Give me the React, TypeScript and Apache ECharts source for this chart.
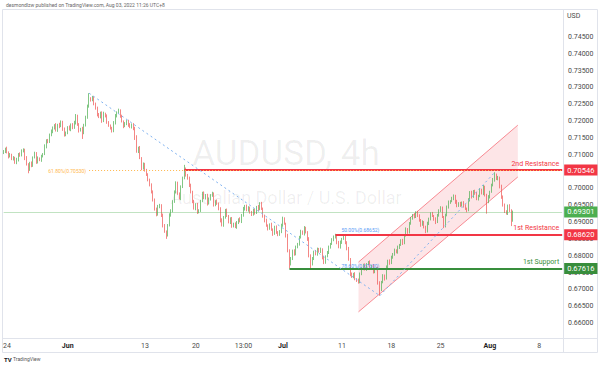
import React, { useEffect, useRef } from 'react';
import * as echarts from 'echarts';

// ---- data (prices in 1e-4 units) ----
const SLOT_COUNT = 341; // bar slots on the time axis (incl. empty future space)
const FIRST_OPEN = 7105;
const closes = [
  7110,7118,7108,7095,7100,7088,7092,7076,7085,7102,
  7098,7112,7116,7090,7072,7055,7075,7068,7092,7105,
  7078,7090,7084,7096,7102,7125,7142,7138,7160,7168,
  7180,7188,7172,7190,7185,7198,7176,7158,7165,7182,
  7175,7190,7180,7195,7216,7190,7172,7178,7165,7188,
  7210,7245,7268,7262,7270,7252,7238,7220,7212,7225,
  7200,7222,7215,7198,7186,7180,7170,7195,7215,7225,
  7232,7215,7200,7185,7192,7200,7188,7182,7190,7178,
  7150,7110,7120,7090,7060,7072,7055,7040,7025,7012,
  6990,6965,6940,6922,6945,6950,6920,6890,6872,6862,
  6890,6920,6935,6960,6990,7015,6985,6970,7005,7030,
  7058,7040,7030,7010,6990,6960,6940,6952,6930,6935,
  6962,6985,6972,6980,6955,6968,6980,6984,6950,6962,
  6955,6940,6905,6890,6915,6935,6918,6900,6910,6888,
  6895,6885,6898,6908,6902,6920,6940,6948,6935,6942,
  6930,6922,6935,6928,6945,6938,6955,6940,6918,6905,
  6890,6880,6892,6878,6865,6885,6870,6862,6872,6890,
  6910,6895,6860,6815,6775,6790,6815,6805,6825,6835,
  6855,6872,6865,6882,6870,6850,6800,6775,6790,6812,
  6805,6820,6812,6818,6795,6780,6798,6810,6825,6835,
  6848,6855,6858,6840,6825,6840,6850,6855,6838,6822,
  6790,6745,6738,6745,6730,6728,6722,6745,6762,6772,
  6760,6775,6780,6765,6770,6752,6760,6762,6720,6700,
  6722,6740,6732,6765,6785,6778,6795,6805,6815,6810,
  6825,6832,6845,6838,6860,6878,6870,6895,6912,6920,
  6915,6928,6920,6905,6892,6900,6885,6872,6895,6910,
  6925,6918,6908,6900,6920,6935,6942,6915,6888,6920,
  6945,6958,6962,6970,6978,6960,6948,6955,6950,6958,
  6948,6940,6935,6965,6988,6975,6992,6985,6970,6978,
  6995,6985,7005,6980,6960,6975,6990,7010,7025,7040,
  7028,7032,7005,6975,6950,6932,6925,6948,6935,6905,6930
];
const upperWicks = [
  4,3,6,2,5,3,4,2,6,3, 5,4,3,2,6,3,4,5,3,4, 3,5,2,4,3,6,4,5,3,7, 4,3,6,2,5,4,3,5,4,3,
  5,3,4,6,5,3,4,2,5,4, 6,4,15,3,5,4,3,5,4,3, 4,6,3,5,2,4,3,5,6,4, 5,3,4,2,5,3,4,6,3,4,
  5,8,4,6,3,5,4,3,5,4, 3,4,5,3,6,4,3,5,4,3, 4,6,3,5,4,6,5,3,4,5, 12,4,3,5,4,3,6,4,5,3,
  4,5,6,3,4,5,3,6,4,3, 5,3,4,6,3,4,5,3,4,5, 3,4,5,3,6,4,5,3,4,5, 4,3,5,4,3,6,4,5,3,4,
  5,3,4,6,3,4,5,3,4,5, 6,4,3,5,4,6,3,4,5,3, 4,5,3,6,4,3,5,4,6,3, 5,4,3,6,4,5,3,4,5,3,
  4,5,7,3,4,5,3,6,4,5, 4,3,5,4,6,3,4,5,3,4, 5,3,4,6,3,5,4,3,5,4, 3,5,4,6,3,4,5,3,6,4,
  5,3,4,5,3,6,4,5,3,4, 6,4,5,3,4,5,3,4,6,3, 4,5,3,6,4,3,5,4,3,5, 4,6,3,5,4,3,6,4,5,3,
  4,5,3,6,4,5,3,4,5,3, 6,4,5,3,4,5,3,4,6,8, 4,5,3,6,4,5,3,4,5,3,4
];
const lowerWicks = [
  3,5,4,6,3,4,5,3,4,5, 4,3,5,6,4,10,3,5,4,3, 5,4,3,5,4,3,6,4,3,5, 4,5,3,4,6,3,5,4,3,4,
  3,5,4,3,5,4,6,3,18,4, 4,3,5,4,3,5,4,6,3,4, 5,3,4,6,3,5,4,3,5,4, 3,5,4,6,3,4,5,3,4,5,
  6,4,5,3,6,4,5,3,4,6, 5,4,6,5,3,4,5,6,4,12, 5,3,4,6,3,5,4,3,5,4, 3,5,4,6,5,4,3,5,6,4,
  5,3,4,5,6,3,4,5,4,3, 4,5,6,3,4,5,3,4,6,5, 4,3,5,4,3,5,4,6,3,4, 5,4,3,6,4,5,3,4,5,6,
  4,5,3,4,6,3,5,4,3,5, 4,3,6,5,13,4,3,5,4,3, 5,4,3,5,4,6,5,13,4,3, 4,5,3,4,6,5,4,3,5,4,
  3,5,4,6,3,4,5,3,4,6, 5,6,4,5,3,6,5,4,3,5, 4,5,3,4,6,5,4,3,6,19, 5,4,6,3,4,5,3,4,5,3,
  4,5,3,6,4,3,5,4,3,5, 4,3,5,4,6,3,4,5,3,4, 5,3,4,6,3,4,5,3,6,4, 3,5,4,3,5,6,4,3,5,4,
  5,4,6,3,4,5,3,4,5,6, 4,3,5,4,35,4,5,3,4,5, 3,4,5,6,4,5,3,4,5,17,4
];

const tickIndex = [2, 39, 86, 117, 146, 170, 206, 236, 266, 296, 326];
const tickText = ['24', 'Jun', '13', '20', '13:00', 'Jul', '11', '18', '25', 'Aug', '8'];
const monthTicks = ['Jun', 'Jul', 'Aug'];
const hiddenPriceTicks = ['0.70500']; // fully covered by a price tag in the reference

// horizontal levels
const secondResistance = { price: 0.70546, start: 110, label: '2nd Resistance' };
const firstResistance = { price: 0.6862, start: 202, label: '1st Resistance' };
const firstSupport = { price: 0.67616, start: 174, label: '1st Support' };
const lastPrice = { price: 0.69301, start: 0 };
const fib618 = { price: 0.7053, start: 52, label: '61.80%(0.70530)' };
const fib500 = { price: 0.68652, start: 205, label: '50.00%(0.68652)' };
const fib786 = { price: 0.676, start: 205, label: '78.60%(0.67600)' };
const fibDiag1 = [[52, 0.7283], [229, 0.6681]];
const fibDiag2 = [[229, 0.6681], [299, 0.7048]];
const channelUpper = [[216, 0.6781], [313, 0.7188]];
const channelLower = [[216, 0.6633], [313, 0.7034]];

const FONT = 'Roboto, "Liberation Sans", sans-serif';
const UP = '#4caf50';
const DOWN = '#ef5350';
const RED = '#f23645';
const GREEN = '#388e3c';

export default function App() {
  const ref = useRef<HTMLDivElement>(null);
  useEffect(() => {
    if (!ref.current) return;
    const chart = echarts.init(ref.current, undefined, { renderer: 'svg' });
    const cats = Array.from({ length: SLOT_COUNT }, (_, i) => 'b' + i);
    const tickMap = new Map<number, string>();
    tickIndex.forEach((ix, k) => tickMap.set(ix, tickText[k]));

    const candles = closes.map((c, i) => {
      const o = i === 0 ? FIRST_OPEN : closes[i - 1];
      const hi = Math.max(o, c) + upperWicks[i];
      const lo = Math.min(o, c) - lowerWicks[i];
      return [o / 1e4, c / 1e4, lo / 1e4, hi / 1e4];
    });
    const last = SLOT_COUNT - 1;

    const tag = (text: string, bg: string) => ({
      show: true, position: 'end', formatter: text, color: '#fff', backgroundColor: bg,
      padding: [2, 3, 1, 3], fontSize: 7.5, fontFamily: FONT, distance: 2,
    });
    const nameLbl = (text: string, color: string) => ({
      show: true, position: 'insideEndTop', formatter: text, color, fontSize: 7,
      fontFamily: FONT, distance: 3,
    });
    const hLine = (lvl: any, style: any, label: any) => [
      { coord: [lvl.start, lvl.price], lineStyle: style, label },
      { coord: [last, lvl.price] },
    ];
    const none = { show: false };

    const markData: any[] = [
      hLine(lastPrice, { color: 'rgba(76,175,80,0.35)', width: 1, type: 'solid' }, tag('0.69301', UP)),
      hLine(secondResistance, { color: RED, width: 2, type: 'solid' }, tag('0.70546', RED)),
      hLine(secondResistance, { color: 'rgba(0,0,0,0)', width: 0 }, nameLbl(secondResistance.label, RED)),
      hLine(fib618, { color: '#ffb74d', width: 1, type: [1, 2] },
        { show: true, position: 'start', formatter: fib618.label, color: '#ffb74d', fontSize: 5, fontFamily: FONT, distance: 3 }),
      hLine(firstSupport, { color: GREEN, width: 2, type: 'solid' }, tag('0.67616', GREEN)),
      hLine(firstSupport, { color: 'rgba(0,0,0,0)', width: 0 }, nameLbl(firstSupport.label, GREEN)),
      hLine(fib500, { color: '#5b9cf6', width: 1, type: [1, 2] },
        { show: true, position: 'insideStartTop', formatter: fib500.label, color: '#5b9cf6', fontSize: 5, fontFamily: FONT, distance: 1 }),
      hLine(firstResistance, { color: RED, width: 2, type: 'solid' }, tag('0.68620', RED)),
      hLine(firstResistance, { color: 'rgba(0,0,0,0)', width: 0 }, nameLbl(firstResistance.label, RED)),
      hLine(fib786, { color: 'rgba(0,0,0,0)', width: 0 },
        { show: true, position: 'insideStartTop', formatter: fib786.label, color: '#5b9cf6', fontSize: 5, fontFamily: FONT, distance: 1 }),
      [{ coord: fibDiag1[0], lineStyle: { color: '#7fb2f0', width: 1, type: [2, 3] }, label: none }, { coord: fibDiag1[1] }],
      [{ coord: fibDiag2[0], lineStyle: { color: '#7fb2f0', width: 1, type: [2, 3] }, label: none }, { coord: fibDiag2[1] }],
    ];

    chart.setOption({
      animation: false,
      backgroundColor: '#ffffff',
      grid: { left: 2, right: 37, top: 3.35, bottom: 27.2 },
      xAxis: {
        type: 'category', data: cats, boundaryGap: true,
        axisLine: { show: false }, axisTick: { show: false }, splitLine: { show: false },
        axisLabel: {
          interval: (i: number) => tickMap.has(i),
          formatter: (_v: string, i: number) => {
            const t = tickMap.get(i) || '';
            return monthTicks.includes(t) ? '{b|' + t + '}' : t;
          },
          color: '#4a4a4a', fontSize: 7, fontFamily: FONT, margin: 3, hideOverlap: false,
          rich: { b: { fontWeight: 'bold', color: '#222', fontSize: 7, fontFamily: FONT } },
        },
      },
      yAxis: {
        type: 'value', position: 'right', min: 0.655, max: 0.755, interval: 0.005, scale: true,
        axisLine: { show: false }, axisTick: { show: false }, splitLine: { show: false },
        axisLabel: {
          margin: 5, color: '#4a4a4a', fontSize: 7, fontFamily: FONT,
          formatter: (v: number) => {
            const s = v.toFixed(5);
            return v > 0.7451 || v < 0.6599 || hiddenPriceTicks.includes(s) ? '' : s;
          },
        },
      },
      series: [
        {
          type: 'custom', z: 1, silent: true,
          data: [[0]],
          renderItem: (_p: any, api: any) => {
            const a = api.coord(channelUpper[0]);
            const b = api.coord(channelUpper[1]);
            const c = api.coord(channelLower[1]);
            const d = api.coord(channelLower[0]);
            return {
              type: 'group',
              children: [
                { type: 'polygon', shape: { points: [a, b, c, d] }, style: { fill: 'rgba(242,54,69,0.13)' } },
                { type: 'line', shape: { x1: a[0], y1: a[1], x2: b[0], y2: b[1] }, style: { stroke: 'rgba(242,54,69,0.55)', lineWidth: 1 } },
                { type: 'line', shape: { x1: d[0], y1: d[1], x2: c[0], y2: c[1] }, style: { stroke: 'rgba(242,54,69,0.55)', lineWidth: 1 } },
              ],
            };
          },
        },
        {
          type: 'candlestick', z: 3,
          data: candles,
          barWidth: 1.1,
          itemStyle: { color: UP, color0: DOWN, borderColor: UP, borderColor0: DOWN, borderWidth: 0.7 },
          markLine: { symbol: ['none', 'none'], silent: true, animation: false, data: markData },
        },
      ],
      graphic: [
        { type: 'text', z: -10, style: { text: 'AUDUSD, 4h', x: 286, y: 153, align: 'center', verticalAlign: 'middle', fontSize: 35, fontFamily: FONT, fill: 'rgba(0,0,0,0.065)' } },
        { type: 'text', z: -10, style: { text: 'Australian Dollar / U.S. Dollar', x: 286, y: 197, align: 'center', verticalAlign: 'middle', fontSize: 18, fontFamily: FONT, fill: 'rgba(0,0,0,0.065)' } },
        { type: 'rect', z: -5, shape: { x: 2.5, y: 9.5, width: 595, height: 343 }, style: { fill: 'none', stroke: '#e0e3eb', lineWidth: 1 } },
        { type: 'line', z: -5, shape: { x1: 563.5, y1: 9.5, x2: 563.5, y2: 352.5 }, style: { stroke: '#e0e3eb', lineWidth: 1 } },
        { type: 'line', z: -5, shape: { x1: 2.5, y1: 338.5, x2: 597.5, y2: 338.5 }, style: { stroke: '#e0e3eb', lineWidth: 1 } },
        { type: 'text', style: { text: 'USD', x: 567, y: 16, verticalAlign: 'middle', fontSize: 7, fontFamily: FONT, fill: '#4a4a4a' } },
        { type: 'text', style: { text: 'desmondlzw published on TradingView.com, Aug 03, 2022 11:26 UTC+8', x: 6, y: 5, verticalAlign: 'middle', fontSize: 5, fontFamily: FONT, fill: '#666' } },
        { type: 'text', style: { text: 'TV', x: 4, y: 359, verticalAlign: 'middle', fontSize: 6, fontWeight: 'bold', fontFamily: FONT, fill: '#131722' } },
        { type: 'text', style: { text: 'TradingView', x: 13, y: 359, verticalAlign: 'middle', fontSize: 5, fontFamily: FONT, fill: '#555' } },
      ],
    });
    return () => chart.dispose();
  }, []);
  return <div ref={ref} style={{ position: 'fixed', left: 0, top: 0, width: 600, height: 367 }} />;
}
